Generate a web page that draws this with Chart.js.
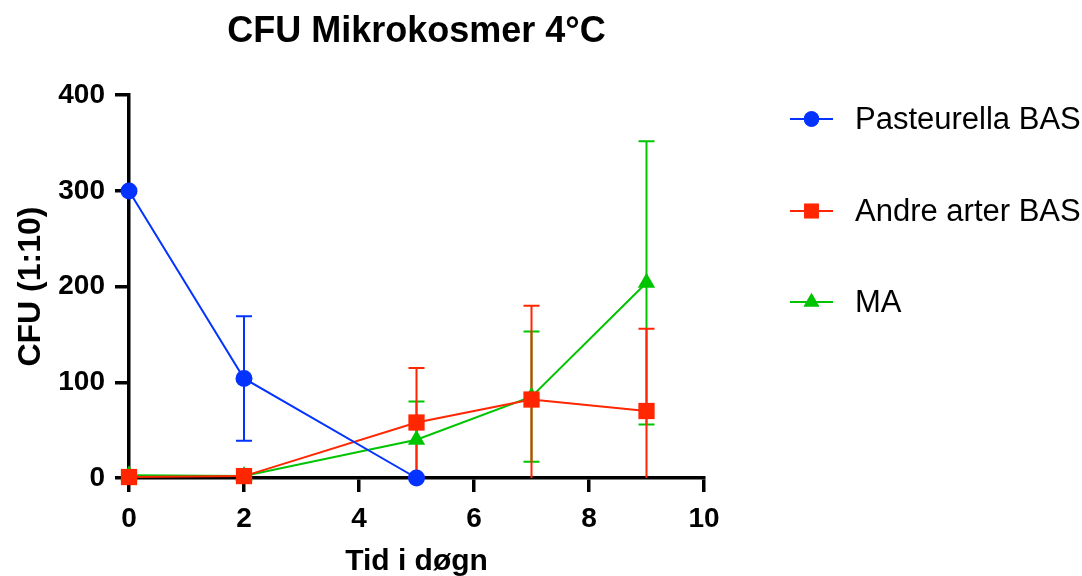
<!DOCTYPE html>
<html>
<head>
<meta charset="utf-8">
<script src="https://cdn.jsdelivr.net/npm/chart.js@4/dist/chart.umd.min.js"></script>
<style>
  html, body { margin: 0; padding: 0; background: #fff; }
  canvas { display: block; }
</style>
</head>
<body>
<canvas id="graf" width="1082" height="576" style="width:1082px;height:576px"></canvas>
<script>
"use strict";

const tid = [0, 2, 5, 7, 9];

const pasteurella   = [300, 104, 0];
const pasteurellaSD = [0, 65, 0];

const andreArter   = [1, 2, 58, 82, 70];
const andreArterSD = [0, 0, 57, 98, 86];

const ma   = [3, 2, 40, 85, 204];
const maSD = [0, 0, 40, 68, 148];

const xTicks = [0, 2, 4, 6, 8, 10];
const yTicks = [0, 100, 200, 300, 400];

const FONT = "'Liberation Sans', Arial, Helvetica, sans-serif";
const BLAA = "#0433ff", ROED = "#ff2600", GROEN = "#00c400";

function punkter(ys) {
  return ys.map((y, i) => ({ x: tid[i], y: y }));
}

// error bars drawn behind the markers, using the chart's own scales
const fejlbarer = {
  id: "fejlbarer",
  beforeDatasetsDraw(chart) {
    const ctx = chart.ctx, xs = chart.scales.x, ys = chart.scales.y;
    const order = [2, 1, 0];
    ctx.save();
    order.forEach(di => {
      const ds = chart.data.datasets[di];
      ctx.strokeStyle = ds.borderColor;
      ctx.lineWidth = 2;
      ds.data.forEach((p, i) => {
        const sd = ds.sd[i];
        if (!sd) return;
        const px = xs.getPixelForValue(p.x);
        const top = ys.getPixelForValue(p.y + sd);
        const lowV = p.y - sd;
        const bot = ys.getPixelForValue(Math.max(0, lowV));
        ctx.beginPath();
        ctx.moveTo(px, top); ctx.lineTo(px, bot);
        ctx.moveTo(px - 8, top); ctx.lineTo(px + 8, top);
        if (lowV > 0) { ctx.moveTo(px - 8, bot); ctx.lineTo(px + 8, bot); }
        ctx.stroke();
      });
    });
    ctx.restore();
  }
};

// legend on the right, line with marker like the original
const forklaring = {
  id: "forklaring",
  afterDraw(chart) {
    const ctx = chart.ctx;
    const rows = [119, 211, 302];
    ctx.save();
    chart.data.datasets.forEach((ds, i) => {
      const y = rows[i];
      ctx.strokeStyle = ds.borderColor;
      ctx.lineWidth = 2;
      ctx.beginPath();
      ctx.moveTo(790, y); ctx.lineTo(833, y);
      ctx.stroke();
      ctx.fillStyle = ds.backgroundColor;
      Chart.helpers.drawPoint(ctx, {
        pointStyle: ds.pointStyle, radius: ds.pointRadius * 0.9, borderWidth: 0, rotation: 0
      }, 811.5, y);
      ctx.fill();
      ctx.fillStyle = "#000";
      ctx.font = "31px " + FONT;
      ctx.textBaseline = "middle";
      ctx.textAlign = "left";
      ctx.fillText(ds.label, 855, y + 1);
    });
    ctx.restore();
  }
};

const aksel = {
  border: { display: true, color: "#000", width: 3.5 },
  grid: { drawOnChartArea: false, drawTicks: true, color: "#000", lineWidth: 3.5, tickLength: 14 },
  ticks: { color: "#000", font: { family: FONT, size: 28, weight: "bold" } }
};

new Chart(document.getElementById("graf"), {
  type: "line",
  data: {
    datasets: [
      { label: "Pasteurella BAS", data: punkter(pasteurella), sd: pasteurellaSD,
        borderColor: BLAA, backgroundColor: BLAA, pointStyle: "circle", pointRadius: 8.5 },
      { label: "Andre arter BAS", data: punkter(andreArter), sd: andreArterSD,
        borderColor: ROED, backgroundColor: ROED, pointStyle: "rect", pointRadius: 11.5 },
      { label: "MA", data: punkter(ma), sd: maSD,
        borderColor: GROEN, backgroundColor: GROEN, pointStyle: "triangle", pointRadius: 10 }
    ].map(d => Object.assign(d, { borderWidth: 2, pointBorderWidth: 0, tension: 0, clip: false, pointHoverRadius: d.pointRadius }))
  },
  options: {
    responsive: false,
    animation: false,
    maintainAspectRatio: false,
    devicePixelRatio: 1,
    layout: { padding: { left: 0, right: 378, top: 0, bottom: 0 } },
    plugins: {
      legend: { display: false },
      tooltip: { enabled: false },
      title: {
        display: true, fullSize: false, text: "CFU Mikrokosmer 4°C", color: "#000",
        font: { family: FONT, size: 36, weight: "bold" },
        padding: { top: 10, bottom: 42 }
      }
    },
    scales: {
      x: Object.assign({}, aksel, {
        type: "linear", min: 0, max: 10,
        afterFit(s) { s.height = 98; },
        afterBuildTicks(s) { s.ticks = xTicks.map(v => ({ value: v })); },
        ticks: Object.assign({}, aksel.ticks, { padding: 10 }),
        title: { display: true, text: "Tid i døgn", color: "#000", padding: { top: 0, bottom: -4 },
                 font: { family: FONT, size: 30, weight: "bold" } }
      }),
      y: Object.assign({}, aksel, {
        type: "linear", min: 0, max: 400,
        afterFit(s) { s.width = 129; },
        afterBuildTicks(s) { s.ticks = yTicks.map(v => ({ value: v })); },
        ticks: Object.assign({}, aksel.ticks, { padding: 10 }),
        title: { display: true, text: "CFU (1:10)", color: "#000", padding: { top: 12, bottom: 0 },
                 font: { family: FONT, size: 32, weight: "bold" } }
      })
    }
  },
  plugins: [fejlbarer, forklaring]
});
</script>
</body>
</html>
